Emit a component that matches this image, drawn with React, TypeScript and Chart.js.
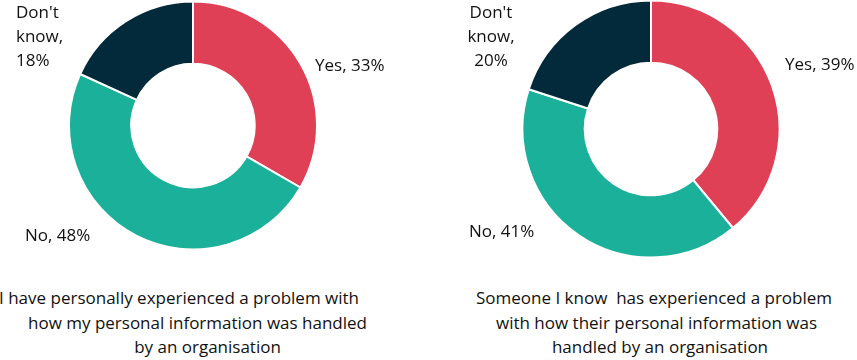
import React, { useEffect, useRef } from "react";
import { Chart, registerables } from "chart.js";

Chart.register(...registerables);

const categories = ["Yes", "No", "Don't know"];
const personalValues = [33, 48, 18];
const someoneValues = [39, 41, 20];
const colors = ["#E04056", "#1BB099", "#032A3B"];

const personalCaption = [
  "I have personally experienced a problem with",
  "how my personal information was handled",
  "by an organisation",
];
const someoneCaption = [
  "Someone I know  has experienced a problem",
  "with how their personal information was",
  "handled by an organisation",
];

const FONT = "'Open Sans', 'Noto Sans', sans-serif";
const FONT_SIZE = 17;

type LabelPos = { dx: number; dy: number; align: CanvasTextAlign };

const labelPlugin = {
  id: "sliceLabels",
  afterDraw(chart: any, _args: any, opts: any) {
    const meta = chart.getDatasetMeta(0);
    const arc = meta.data[0];
    if (!arc) return;
    const { x, y } = arc.getProps(["x", "y"], true);
    const ctx = chart.ctx;
    ctx.save();
    ctx.fillStyle = "#111";
    ctx.font = `${FONT_SIZE}px ${FONT}`;
    ctx.textBaseline = "middle";
    (opts.labels as (LabelPos & { lines: string[] })[]).forEach((l) => {
      ctx.textAlign = l.align;
      l.lines.forEach((line, i) => {
        ctx.fillText(line, x + l.dx, y + l.dy + i * 24);
      });
    });
    ctx.restore();
  },
};

function makeLabels(values: number[], pos: LabelPos[]) {
  return values.map((v, i) => {
    const name = categories[i];
    const lines = name === "Don't know" ? ["Don't", "know,", `${v}%`] : [`${name}, ${v}%`];
    return { ...pos[i], lines };
  });
}

function Donut(props: {
  values: number[];
  left: number;
  top: number;
  width: number;
  height: number;
  radius: number;
  cutout: number;
  labelPos: LabelPos[];
}) {
  const ref = useRef<HTMLCanvasElement>(null);
  useEffect(() => {
    const chart = new Chart(ref.current!, {
      type: "doughnut",
      data: {
        labels: categories,
        datasets: [
          {
            data: props.values,
            backgroundColor: colors,
            borderColor: "#ffffff",
            borderWidth: 2,
            hoverBorderWidth: 2,
          },
        ],
      },
      options: {
        animation: false,
        responsive: false,
        radius: props.radius,
        cutout: props.cutout,
        layout: { padding: 0 },
        plugins: {
          legend: { display: false },
          tooltip: { enabled: false },
          sliceLabels: { labels: makeLabels(props.values, props.labelPos) },
        } as any,
      },
      plugins: [labelPlugin],
    });
    return () => chart.destroy();
  }, []);
  return (
    <canvas
      ref={ref}
      width={props.width}
      height={props.height}
      style={{ position: "absolute", left: props.left, top: props.top, width: props.width, height: props.height }}
    />
  );
}

function Caption(props: { lines: string[]; centers: number[]; top: number }) {
  return (
    <>
      {props.lines.map((line, i) => (
        <div
          key={i}
          style={{
            position: "absolute",
            left: props.centers[i] - 250,
            width: 500,
            top: props.top + i * 24.5,
            textAlign: "center",
            whiteSpace: "pre",
            fontFamily: FONT,
            fontSize: FONT_SIZE,
            lineHeight: "20px",
            color: "#111",
          }}
        >
          {line}
        </div>
      ))}
    </>
  );
}

export default function App() {
  return (
    <div style={{ position: "absolute", left: 0, top: 0, width: 857, height: 360, background: "#fff", overflow: "hidden" }}>
      <Donut
        values={personalValues}
        left={0}
        top={0}
        width={386}
        height={251}
        radius={124}
        cutout={62}
        labelPos={[
          { dx: 122, dy: -59, align: "left" },
          { dx: -168, dy: 110.5, align: "left" },
          { dx: -177, dy: -112, align: "left" },
        ]}
      />
      <Donut
        values={someoneValues}
        left={447}
        top={0}
        width={408}
        height={258}
        radius={128.5}
        cutout={66}
        labelPos={[
          { dx: 134, dy: -64, align: "left" },
          { dx: -182, dy: 103, align: "left" },
          { dx: -160, dy: -115.5, align: "center" },
        ]}
      />
      <Caption lines={personalCaption} centers={[179, 197.5, 207.5]} top={288} />
      <Caption lines={someoneCaption} centers={[654, 656.5, 660]} top={288} />
    </div>
  );
}
